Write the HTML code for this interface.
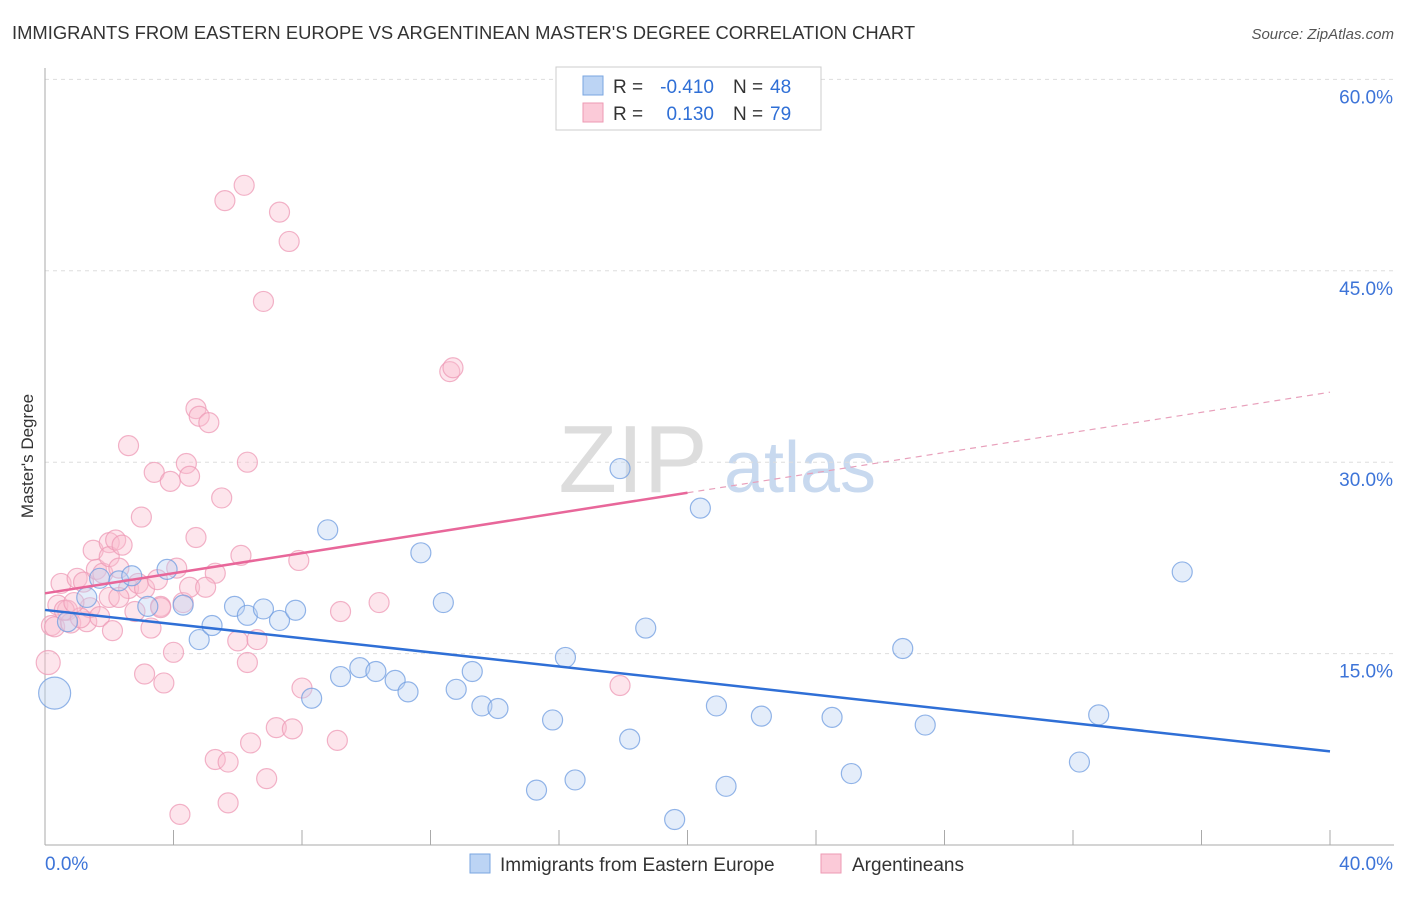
<!DOCTYPE html>
<html><head><meta charset="utf-8"><style>
body{margin:0;background:#fff;font-family:"Liberation Sans",sans-serif}
svg text{font-family:"Liberation Sans",sans-serif}
</style></head><body>
<svg id="c" width="1406" height="892">
<text x="12" y="39" font-size="18.4" fill="#333">IMMIGRANTS FROM EASTERN EUROPE VS ARGENTINEAN MASTER'S DEGREE CORRELATION CHART</text>
<text x="1394" y="39" font-size="15" fill="#555" font-style="italic" text-anchor="end">Source: ZipAtlas.com</text>
<text x="33" y="456" font-size="17" fill="#333" text-anchor="middle" transform="rotate(-90 33 456)">Master's Degree</text>
<g><text x="633" y="492" font-size="96" fill="#ddd" font-family="Liberation Serif" text-anchor="middle">ZIP</text><text x="800" y="492" font-size="72" fill="#c8d9ef" text-anchor="middle">atlas</text></g>
<g id="grid"></g><g id="marks"></g>
<g>
<rect x="556" y="67" width="265" height="63" fill="#fff" stroke="#ccc"/>
<rect x="583" y="76" width="20" height="19" fill="#bcd4f4" stroke="#7aa6e0"/>
<rect x="583" y="103" width="20" height="19" fill="#fbcad8" stroke="#ee9ab3"/>
<text x="613" y="93" font-size="19" fill="#333">R =</text>
<text x="714" y="93" font-size="19" fill="#2f6fd6" text-anchor="end">-0.410</text>
<text x="733" y="93" font-size="19" fill="#333">N =</text>
<text x="770" y="93" font-size="19" fill="#2f6fd6">48</text>
<text x="613" y="120" font-size="19" fill="#333">R =</text>
<text x="714" y="120" font-size="19" fill="#2f6fd6" text-anchor="end">0.130</text>
<text x="733" y="120" font-size="19" fill="#333">N =</text>
<text x="770" y="120" font-size="19" fill="#2f6fd6">79</text>
</g>
<g>
<rect x="470" y="854" width="20" height="19" fill="#bcd4f4" stroke="#7aa6e0"/>
<text x="500" y="871" font-size="19" fill="#333">Immigrants from Eastern Europe</text>
<rect x="821" y="854" width="20" height="19" fill="#fbcad8" stroke="#ee9ab3"/>
<text x="852" y="871" font-size="19" fill="#333">Argentineans</text>
</g>
</svg>
<script>
const yTicks=[15,30,45,60];
const yTickLabels=["15.0%","30.0%","45.0%","60.0%"];
const xTickLabels=["0.0%","40.0%"];
const blueX=[0.3,0.7,1.3,1.7,2.3,2.7,3.2,3.8,4.3,4.8,5.2,5.9,6.3,6.8,7.3,7.8,8.3,8.8,9.2,9.8,10.3,10.9,11.3,11.7,12.4,12.8,13.3,13.6,14.1,15.3,15.8,16.2,16.5,17.9,18.2,18.7,19.6,20.4,20.9,21.2,22.3,24.5,25.1,26.7,27.4,32.2,32.8,35.4];
const blueY=[11.9,17.5,19.4,20.9,20.7,21.1,18.7,21.6,18.8,16.1,17.2,18.7,18.0,18.5,17.6,18.4,11.5,24.7,13.2,13.9,13.6,12.9,12.0,22.9,19.0,12.2,13.6,10.9,10.7,4.3,9.8,14.7,5.1,29.5,8.3,17.0,2.0,26.4,10.9,4.6,10.1,10.0,5.6,15.4,9.4,6.5,10.2,21.4];
const pinkX=[0.1,0.2,0.3,0.4,0.5,0.7,0.8,1.0,1.2,1.3,1.4,1.5,1.6,1.7,1.8,2.0,2.0,2.1,2.2,2.3,2.4,2.6,2.6,2.8,2.9,3.0,3.1,3.1,3.3,3.4,3.5,3.6,3.7,3.9,4.0,4.1,4.3,4.4,4.5,4.5,4.7,4.7,4.8,5.1,5.3,5.3,5.5,5.6,5.7,5.7,6.0,6.1,6.2,6.3,6.3,6.4,6.6,6.8,6.9,7.2,7.3,7.6,7.7,7.9,8.0,9.1,9.2,10.4,12.6,12.7,17.9,4.2,2.0,0.6,2.3,5.0,1.1,0.9,3.6];
const pinkY=[14.3,17.2,17.1,18.8,20.5,18.4,17.4,20.9,20.6,17.5,18.6,23.1,21.6,17.9,21.3,23.7,22.6,16.8,23.9,21.7,23.5,31.3,20.1,18.3,20.5,25.7,13.4,20.1,17.0,29.2,20.8,18.7,12.7,28.5,15.1,21.7,19.0,29.9,28.9,20.2,34.2,24.1,33.6,33.1,21.3,6.7,27.2,50.5,6.5,3.3,16.0,22.7,51.7,14.3,30.0,8.0,16.1,42.6,5.2,9.2,49.6,47.3,9.1,22.3,12.3,8.2,18.3,19.0,37.1,37.4,12.5,2.4,19.4,18.4,19.4,20.2,17.8,19.0,18.6];
const xs=v=>45+v/40*1285, ys=v=>845-v*12.76;
const NS="http://www.w3.org/2000/svg";
const svg=document.getElementById('c'),grid=document.getElementById('grid'),marks=document.getElementById('marks');
function mk(t,a,p){const e=document.createElementNS(NS,t);for(const k in a)e.setAttribute(k,a[k]);(p||svg).appendChild(e);return e;}
yTicks.forEach((t,i)=>{
 const l=mk('line',{x1:45,x2:1394,y1:ys(t),y2:ys(t),stroke:'#ddd','stroke-dasharray':'4,4'},grid);
 
 
 const tx=mk('text',{x:1393,y:ys(t)+24,'font-size':19,fill:'#3d74d8','text-anchor':'end'},grid);tx.textContent=yTickLabels[i];
 
 
});
mk('line',{x1:45,x2:45,y1:68,y2:845,stroke:'#aaa'},grid);
mk('line',{x1:45,x2:1394,y1:845,y2:845,stroke:'#aaa'},grid);
for(let v=4;v<=40;v+=4){const l=mk('line',{x1:xs(v),x2:xs(v),y1:830,y2:845,stroke:'#aaa'},grid);
 
 }
[[0,45,'start'],[40,1393,'end']].forEach((d,i)=>{const t=mk('text',{x:d[1],y:870,'font-size':19,fill:'#3d74d8','text-anchor':d[2]},grid);t.textContent=xTickLabels[i];
 
 });
function fit(X,Y){const n=X.length;let mx=0,my=0;X.forEach((x,i)=>{mx+=x;my+=Y[i]});mx/=n;my/=n;let sxy=0,sxx=0;X.forEach((x,i)=>{sxy+=(x-mx)*(Y[i]-my);sxx+=(x-mx)**2});const b=sxy/sxx;return[my-b*mx,b];}
function dots(X,Y,fill,stroke,name){X.forEach((x,i)=>{const r=(i===0)?(name==='blue-point'?16:12):10;
 const c=mk('circle',{cx:xs(x),cy:ys(Y[i]),r:r,fill:fill,'fill-opacity':0.4,stroke:stroke,'stroke-opacity':0.75,'stroke-width':1.2},marks);
 
 });}
dots(pinkX,pinkY,'#f9bdd0','#ee9ab5','pink-point');
dots(blueX,blueY,'#bcd3f3','#6f9ce0','blue-point');
const bf=fit(blueX,blueY),pf=fit(pinkX,pinkY);
const bl=mk('line',{x1:xs(0),y1:ys(bf[0]),x2:xs(40),y2:ys(bf[0]+40*bf[1]),stroke:'#2f6fd6','stroke-width':2.5},marks);


const pl=mk('line',{x1:xs(0),y1:ys(pf[0]),x2:xs(20),y2:ys(pf[0]+20*pf[1]),stroke:'#e8679a','stroke-width':2.5},marks);


const pd=mk('line',{x1:xs(20),y1:ys(pf[0]+20*pf[1]),x2:xs(40),y2:ys(pf[0]+40*pf[1]),stroke:'#e8a0bb','stroke-width':1.2,'stroke-dasharray':'6,5'},marks);


</script>
</body></html>
